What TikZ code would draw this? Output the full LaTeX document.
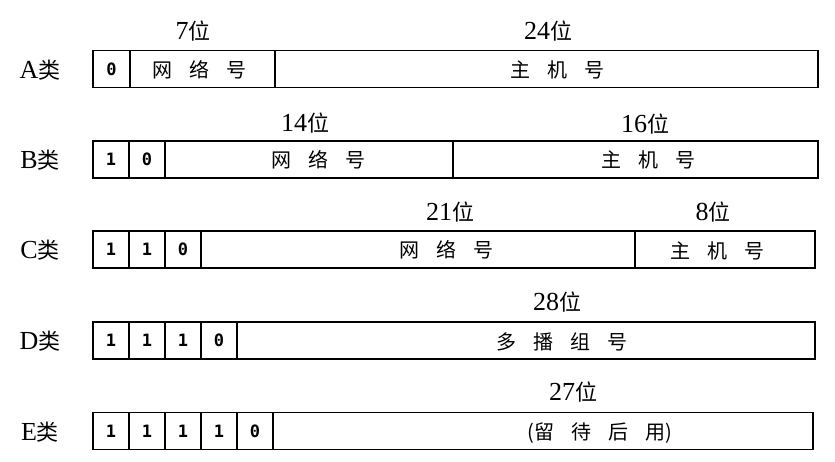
\documentclass[tikz,border=0pt]{standalone}
\usepackage{fontspec}
\setmainfont{Liberation Serif}
\newfontfamily\cjkf{Noto Sans CJK SC}
\newfontfamily\bitf{DejaVu Sans Mono}
\newcommand{\gapz}{\hspace{17pt}}
\newcommand{\zhl}[1]{{\cjkf\fontsize{22}{22}\selectfont #1}}
\begin{document}
\begin{tikzpicture}[x=1pt,y=-1pt,
 field/.style={draw, line width=1.3pt, inner sep=0pt, minimum height=37pt},
 bitbox/.style={field, minimum width=36pt, font=\bitf\bfseries\fontsize{17}{17}\selectfont},
 txt/.style={font=\cjkf\fontsize{20}{20}\selectfont, inner sep=0pt},
 cls/.style={font=\fontsize{26}{26}\selectfont, inner sep=0pt},
 wlab/.style={font=\fontsize{26}{26}\selectfont, inner sep=0pt}]
\useasboundingbox (0,0) rectangle (835,462);
% ---- A
\node[cls] (A) at (40,70) {A\zhl{类}};
\node[bitbox, minimum width=37pt] (a1) at (111.5,69) {0};
\node[field, minimum width=145pt] (a2) at (202.5,69) {};
\node[field, minimum width=543pt] (a3) at (546.5,69) {};
\node[txt] (a2t) at (199,70) {网\gapz 络\gapz 号};
\node[txt] (a3t) at (557,70) {主\gapz 机\gapz 号};
\node[wlab] (aw1) at (193,31) {7\zhl{位}};
\node[wlab] (aw2) at (548,31) {24\zhl{位}};
% ---- B
\node[cls] (B) at (40,160) {B\zhl{类}};
\node[bitbox] (b1) at (111,159.5) {1};
\node[bitbox] (b2) at (147,159.5) {0};
\node[field, minimum width=288pt] (b3) at (309,159.5) {};
\node[field, minimum width=365pt] (b4) at (635.5,159.5) {};
\node[txt] (b3t) at (318,160) {网\gapz 络\gapz 号};
\node[txt] (b4t) at (648,160) {主\gapz 机\gapz 号};
\node[wlab] (bw1) at (305,123) {14\zhl{位}};
\node[wlab] (bw2) at (645,124) {16\zhl{位}};
% ---- C
\node[cls] (C) at (40,250) {C\zhl{类}};
\node[bitbox] (c1) at (111,249.5) {1};
\node[bitbox] (c2) at (147,249.5) {1};
\node[bitbox] (c3) at (183,249.5) {0};
\node[field, minimum width=434pt] (c4) at (418,249.5) {};
\node[field, minimum width=180pt] (c5) at (725,249.5) {};
\node[txt] (c4t) at (446,250) {网\gapz 络\gapz 号};
\node[txt] (c5t) at (717,251) {主\gapz 机\gapz 号};
\node[wlab] (cw1) at (450,212) {21\zhl{位}};
\node[wlab] (cw2) at (713,212) {8\zhl{位}};
% ---- D
\node[cls] (D) at (40,341) {D\zhl{类}};
\node[bitbox] (d1) at (111,340.5) {1};
\node[bitbox] (d2) at (147,340.5) {1};
\node[bitbox] (d3) at (183,340.5) {1};
\node[bitbox] (d4) at (219,340.5) {0};
\node[field, minimum width=578pt] (d5) at (526,340.5) {};
\node[txt] (d5t) at (562,342) {多\gapz 播\gapz 组\gapz 号};
\node[wlab] (dw1) at (557,302) {28\zhl{位}};
% ---- E
\node[cls] (E) at (40,432) {E\zhl{类}};
\node[bitbox] (e1) at (111,431) {1};
\node[bitbox] (e2) at (147,431) {1};
\node[bitbox] (e3) at (183,431) {1};
\node[bitbox] (e4) at (219,431) {1};
\node[bitbox] (e5) at (255,431) {0};
\node[field, minimum width=540pt] (e6) at (543,431) {};
\node[txt] (e6t) at (600,433) {(留\gapz 待\gapz 后\gapz 用)};
\node[wlab] (ew1) at (573,392) {27\zhl{位}};
\end{tikzpicture}
\end{document}
